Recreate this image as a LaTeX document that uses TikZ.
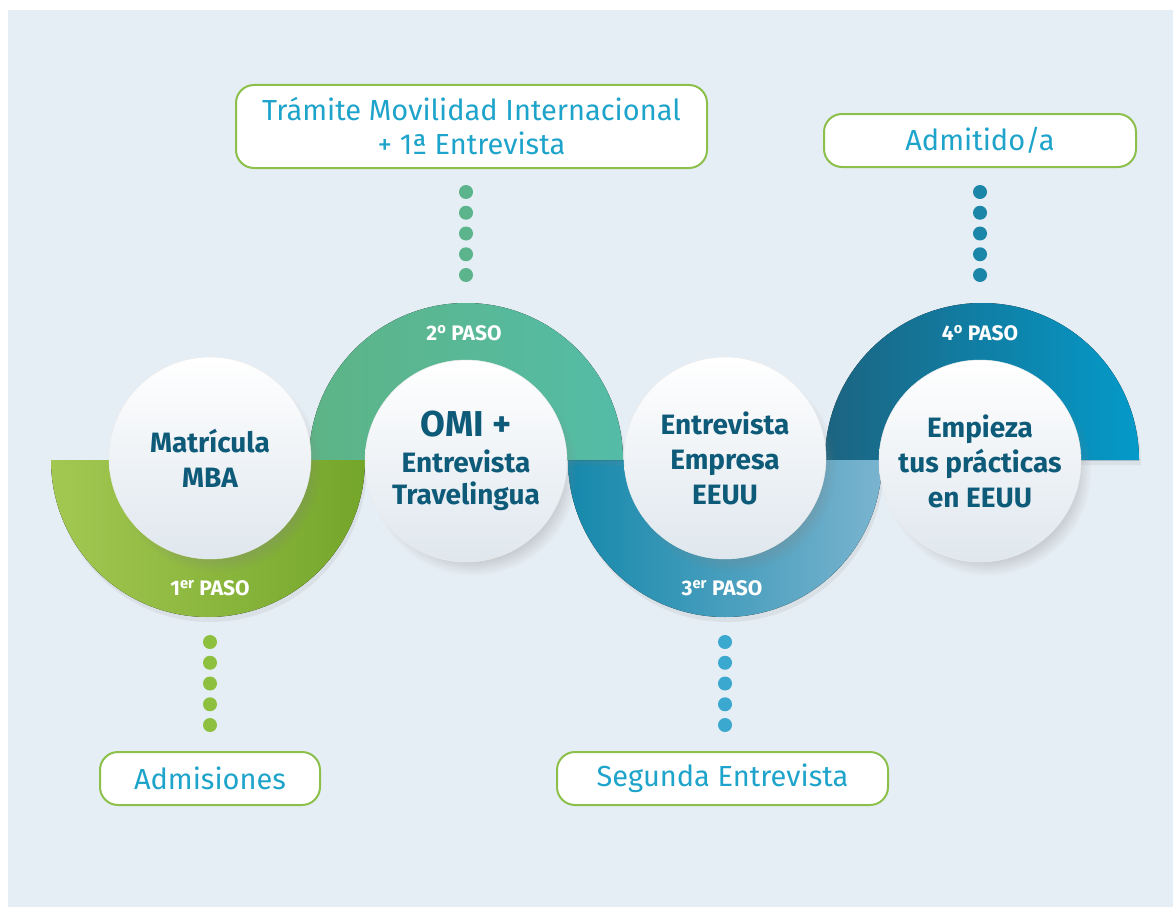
\documentclass[tikz,border=0pt]{standalone}
\usepackage{fontspec}
\setmainfont{Fira Sans}
\usetikzlibrary{shadows,fadings}

\definecolor{pagebg}{HTML}{E6EEF5}
\definecolor{stepink}{HTML}{0E5A79}
\definecolor{notecyan}{HTML}{1EA4CB}
\definecolor{boxgreen}{HTML}{8CC04A}
\definecolor{ringAl}{HTML}{A3C852}
\definecolor{ringAr}{HTML}{74A62A}
\definecolor{ringBl}{HTML}{5DB486}
\definecolor{ringBr}{HTML}{54BCA7}
\definecolor{ringCl}{HTML}{1588AB}
\definecolor{ringCm}{HTML}{28A0C6}
\definecolor{ringCr}{HTML}{7AB4CF}
\definecolor{ringDl}{HTML}{1C6481}
\definecolor{ringDr}{HTML}{049AC9}
\definecolor{dotgreen}{HTML}{8DC03F}
\definecolor{dotteal}{HTML}{5CB48C}
\definecolor{dotblue}{HTML}{3AA8CF}
\definecolor{dotdeep}{HTML}{1C86A9}

\tikzset{
  ringpart/.style={drop shadow={opacity=0.12,shadow xshift=2pt,shadow yshift=-5pt}},
  stepdisc/.style={circle,minimum size=202pt,inner sep=0pt,align=center,
    top color=white,bottom color=black!3!pagebg,draw=black!8,line width=0.5pt,
    circular drop shadow={opacity=0.3,shadow scale=1.03,shadow xshift=7pt,shadow yshift=-10pt},
    text=stepink,font=\bfseries\fontsize{28}{35}\selectfont},
  pasolabel/.style={text=white,font=\bfseries\fontsize{21}{24}\selectfont},
  notebox/.style={draw=boxgreen,line width=2pt,fill=white,rounded corners=18pt,
    minimum height=53pt,inner sep=0pt,align=center,text=notecyan,
    font=\fontsize{29}{34}\selectfont},
  dotline/.style={line width=14pt,line cap=round,dash pattern=on 0pt off 20.75pt,draw=#1}
}

\begin{document}
\begin{tikzpicture}[x=1pt,y=-1pt]
  \useasboundingbox (0,0) rectangle (1173,907);
  \fill[pagebg] (8,10) rectangle (1173,907);

  % half rings
  \fill[ringpart,left color=ringDl,right color=ringDr]
    (825,460) arc[start angle=180,end angle=360,radius=157]
    -- (1077,460) arc[start angle=360,end angle=180,radius=95] -- cycle;
  \fill[ringpart,left color=ringCl,middle color=ringCm,right color=ringCr]
    (568,460) arc[start angle=180,end angle=0,radius=157]
    -- (820,460) arc[start angle=0,end angle=180,radius=95] -- cycle;
  \fill[ringpart,left color=ringBl,right color=ringBr]
    (309,460) arc[start angle=180,end angle=360,radius=157]
    -- (561,460) arc[start angle=360,end angle=180,radius=95] -- cycle;
  \fill[ringpart,left color=ringAl,right color=ringAr]
    (51,460) arc[start angle=180,end angle=0,radius=157]
    -- (303,460) arc[start angle=0,end angle=180,radius=95] -- cycle;

  % steps
  \node[stepdisc] (matricula) at (210,458) {Matrícula\\MBA};
  \node[stepdisc] (omi) at (466,461)
    {{\fontsize{36}{36}\selectfont OMI +}\\[1pt]Entrevista\\[-3pt]Travelingua};
  \node[stepdisc] (empresa) at (725,458) {Entrevista\\Empresa\\EEUU};
  \node[stepdisc] (empieza) at (980,461) {Empieza\\tus prácticas\\en EEUU};

  \node[pasolabel] (paso1) at (210,588) {1\textsuperscript{er} PASO};
  \node[pasolabel] (paso2) at (464,333) {2\textsuperscript{o} PASO};
  \node[pasolabel] (paso3) at (722,588) {3\textsuperscript{er} PASO};
  \node[pasolabel] (paso4) at (980,333) {4\textsuperscript{o} PASO};

  % notes
  \node[notebox,minimum width=471pt,minimum height=83pt] (tramite) at (471.5,126.5)
    {Trámite Movilidad Internacional\\+ 1ª Entrevista};
  \node[notebox,minimum width=312pt] (admitido) at (980,140.5) {Admitido/a};
  \node[notebox,minimum width=220pt] (admisiones) at (210,778.5) {Admisiones};
  \node[notebox,minimum width=331pt] (segunda) at (722.5,778.5) {Segunda Entrevista};

  % dotted links
  \draw[dotline=dotteal] (tramite.south -| omi) ++(0,23) -- ++(0,84);
  \draw[dotline=dotdeep] (admitido.south -| empieza) ++(0,24) -- ++(0,84);
  \draw[dotline=dotgreen] (admisiones.north -| matricula) ++(0,-109) -- ++(0,84);
  \draw[dotline=dotblue] (segunda.north -| empresa) ++(0,-109) -- ++(0,84);
\end{tikzpicture}
\end{document}
